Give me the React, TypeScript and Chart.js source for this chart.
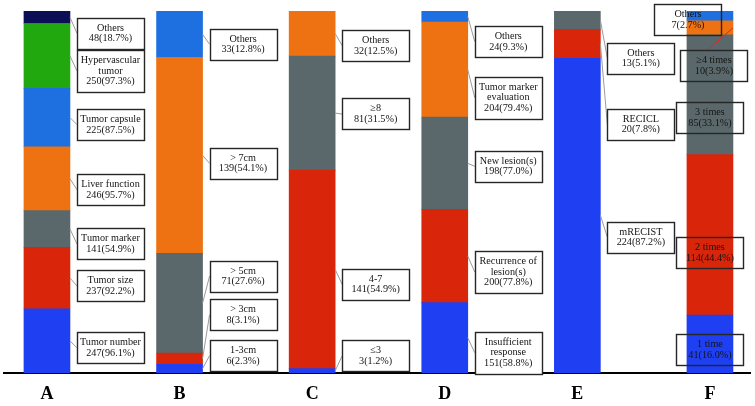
import React, { useEffect, useRef } from 'react';
import { Chart, registerables } from 'chart.js';

Chart.register(...registerables);

// ---------------- DATA ----------------
const TOTAL_PATIENTS = 257;
const categories = ['A', 'B', 'C', 'D', 'E', 'F'];

// every list runs from the bottom segment to the top segment
const labelsA = ['Tumor number', 'Tumor size', 'Tumor marker', 'Liver function', 'Tumor capsule', 'Hypervascular\ntumor', 'Others'];
const countsA = [247, 237, 141, 246, 225, 250, 48];

const labelsB = ['1-3cm', '> 3cm', '> 5cm', '> 7cm', 'Others'];
const countsB = [6, 8, 71, 139, 33];

const labelsC = ['≤3', '4-7', '≥8', 'Others'];
const countsC = [3, 141, 81, 32];

const labelsD = ['Insufficient\nresponse', 'Recurrence of\nlesion(s)', 'New lesion(s)', 'Tumor marker\nevaluation', 'Others'];
const countsD = [151, 200, 198, 204, 24];

const labelsE = ['mRECIST', 'RECICL', 'Others'];
const countsE = [224, 20, 13];

const labelsF = ['1 time', '2 times', '3 times', '≥4 times', 'Others'];
const countsF = [41, 114, 85, 10, 7];

// ---------------- STYLE ----------------
const BLUE = '#1f3ff3';
const RED = '#d9260b';
const GRAY = '#5b686b';
const ORANGE = '#ee7211';
const LIGHT_BLUE = '#1e6fe0';
const GREEN = '#20a80e';
const NAVY = '#0c0f56';

const colorsA = [BLUE, RED, GRAY, ORANGE, LIGHT_BLUE, GREEN, NAVY];
const colorsB = [BLUE, RED, GRAY, ORANGE, LIGHT_BLUE];
const colorsC = [BLUE, RED, GRAY, ORANGE];
const colorsD = [BLUE, RED, GRAY, ORANGE, LIGHT_BLUE];
const colorsE = [BLUE, RED, GRAY];
const colorsF = [BLUE, RED, GRAY, ORANGE, LIGHT_BLUE];

// callout nudges (px, relative to each segment's middle)
const nudgeA = [7, 8, 15, 11, 7, 15, 16];
const nudgeB = [-13, -44, -27, 8, 10];
const nudgeC = [-15, 15, 1, 12];
const nudgeD = [15, 16, 3, 28, 25];
const nudgeE = [22, 81, 38];
const nudgeF = [6, 18, 23, 38, 4];
const shiftF = [0, 0, 0, 4, -22];
const leaderF = ['none', 'none', 'none', 'red', 'none'];

type Group = {
  labels: string[];
  counts: number[];
  colors: string[];
  dy: number[];
  dx?: number[];
  overlay?: boolean;
  leader?: string[];
};

const groups: Group[] = [
  { labels: labelsA, counts: countsA, colors: colorsA, dy: nudgeA },
  { labels: labelsB, counts: countsB, colors: colorsB, dy: nudgeB },
  { labels: labelsC, counts: countsC, colors: colorsC, dy: nudgeC },
  { labels: labelsD, counts: countsD, colors: colorsD, dy: nudgeD },
  { labels: labelsE, counts: countsE, colors: colorsE, dy: nudgeE },
  { labels: labelsF, counts: countsF, colors: colorsF, dy: nudgeF, dx: shiftF, overlay: true, leader: leaderF },
];

const FONT = '"Liberation Serif", "Times New Roman", serif';
const FONT_SIZE = 10.2;
const LINE_H = 10.6;
const PAD = 5;
const BOX_W = 67;
const GAP = 7;

const calloutPlugin = {
  id: 'callouts',
  afterDatasetsDraw(chart: any) {
    const ctx: CanvasRenderingContext2D = chart.ctx;
    ctx.save();
    ctx.font = `${FONT_SIZE}px ${FONT}`;
    ctx.textAlign = 'center';
    ctx.textBaseline = 'middle';
    groups.forEach((g, ci) => {
      g.counts.forEach((count, li) => {
        const el = chart.getDatasetMeta(li).data[ci];
        if (!el) return;
        const p = el.getProps(['x', 'y', 'base', 'width'], true);
        const segMid = (p.y + p.base) / 2;
        const barRight = p.x + p.width / 2;
        const pct = ((count / TOTAL_PATIENTS) * 100).toFixed(1);
        const lines = [...g.labels[li].split('\n'), `${count}(${pct}%)`];
        const h = lines.length * LINE_H + PAD * 2;
        const cy = segMid + g.dy[li];
        const bx = g.overlay ? p.x + (g.dx ? g.dx[li] : 0) - BOX_W / 2 : barRight + GAP;
        const by = cy - h / 2;
        const mode = g.leader ? g.leader[li] : 'side';

        // leader line
        if (mode === 'side') {
          ctx.beginPath();
          ctx.strokeStyle = '#9a9a9a';
          ctx.lineWidth = 1;
          ctx.moveTo(barRight, segMid);
          ctx.lineTo(bx, cy);
          ctx.stroke();
        } else if (mode === 'red') {
          ctx.beginPath();
          ctx.strokeStyle = '#e3261c';
          ctx.lineWidth = 1;
          ctx.moveTo(barRight, segMid);
          ctx.lineTo(bx + BOX_W * 0.4, by);
          ctx.stroke();
        }

        // box
        const rx = Math.round(bx) + 0.5;
        const ry = Math.round(by) + 0.5;
        if (!g.overlay) {
          ctx.fillStyle = '#ffffff';
          ctx.fillRect(rx, ry, BOX_W, Math.round(h));
        }
        ctx.strokeStyle = '#262626';
        ctx.lineWidth = 1.4;
        ctx.strokeRect(rx, ry, BOX_W, Math.round(h));

        // text
        ctx.fillStyle = '#141414';
        const cx = bx + BOX_W / 2;
        lines.forEach((t, i) => {
          const ty = cy + (i - (lines.length - 1) / 2) * LINE_H;
          ctx.fillText(t, cx, ty);
        });
      });
    });
    ctx.restore();
  },
};

const maxLevels = Math.max(...groups.map((g) => g.counts.length));

export default function App() {
  const ref = useRef<HTMLCanvasElement | null>(null);

  useEffect(() => {
    document.body.style.margin = '0';
    if (!ref.current) return;

    const datasets = Array.from({ length: maxLevels }, (_, li) => ({
      label: `level ${li + 1}`,
      data: groups.map((g, ci) => {
        const sum = g.counts.reduce((a, b) => a + b, 0);
        const c = g.counts[li];
        return { x: ci, y: c === undefined ? null : (c / sum) * 100 };
      }),
      backgroundColor: groups.map((g) => g.colors[li] ?? 'rgba(0,0,0,0)'),
      borderWidth: 0,
      barThickness: 46,
    }));

    const chart = new Chart(ref.current, {
      type: 'bar',
      data: { datasets: datasets as any },
      options: {
        animation: false,
        responsive: false,
        devicePixelRatio: 1,
        layout: { padding: { left: 4, right: 5, top: 11, bottom: -10.5 } },
        plugins: { legend: { display: false }, tooltip: { enabled: false } },
        scales: {
          x: {
            type: 'linear',
            min: -0.324,
            max: 5.302,
            offset: false,
            stacked: true,
            grid: { display: false, drawTicks: false, tickLength: 0, offset: false },
            border: { display: true, color: '#000000', width: 2 },
            ticks: {
              stepSize: 1,
              includeBounds: false,
              autoSkip: false,
              maxRotation: 0,
              color: '#000000',
              padding: 11,
              font: { family: FONT, size: 18, weight: 'bold' },
              callback: (v: any) => (Number.isInteger(v) ? categories[v] ?? '' : ''),
            },
          },
          y: { stacked: true, display: false, min: 0, max: 100 },
        },
      },
      plugins: [calloutPlugin],
    });

    return () => chart.destroy();
  }, []);

  return (
    <div style={{ width: 755, height: 406 }}>
      <canvas ref={ref} width={755} height={406} style={{ display: 'block' }} />
    </div>
  );
}
